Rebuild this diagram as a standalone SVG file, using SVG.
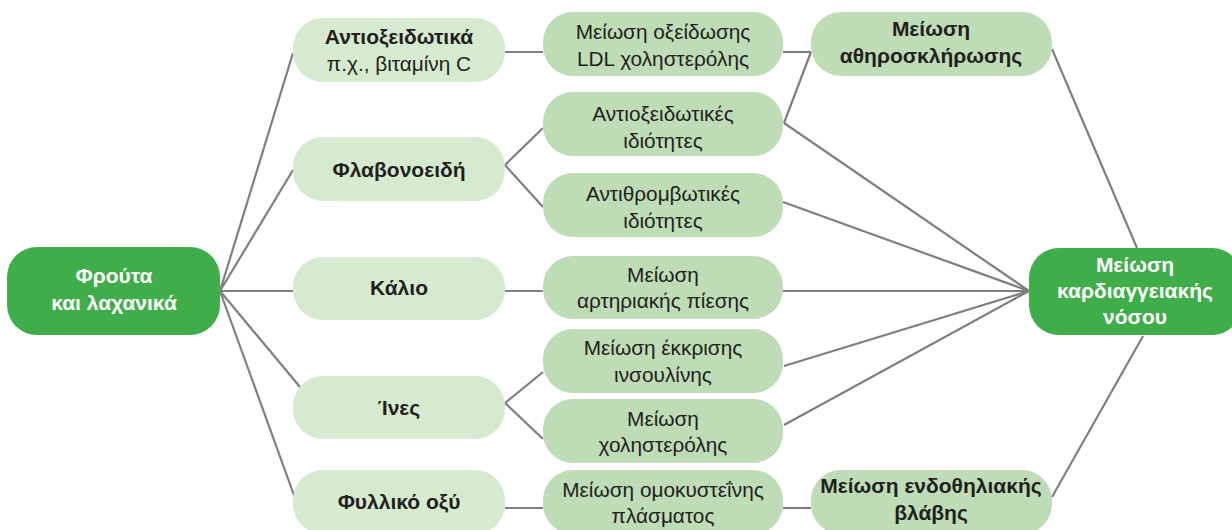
<svg xmlns="http://www.w3.org/2000/svg" width="1232" height="530" viewBox="0 0 1232 530">
<style>
.main{fill:#3fae4a}
.c1{fill:#d6ead0}
.c2{fill:#bedcb5}
text{font-family:"Liberation Sans",Arial,sans-serif;font-size:20.8px;text-anchor:middle;fill:#231f20}
.b{font-weight:bold;font-size:21px}
.w{fill:#ffffff;font-weight:bold;font-size:21px}
#connectors line{stroke:#7f7f7f;stroke-width:2.2;fill:none}
</style>
<rect width="1232" height="530" fill="#ffffff"/>
<g id="connectors">
<line x1="220" y1="291" x2="293" y2="53"/>
<line x1="220" y1="291" x2="293" y2="170"/>
<line x1="220" y1="291" x2="293" y2="291"/>
<line x1="220" y1="291" x2="300" y2="387"/>
<line x1="220" y1="291" x2="295" y2="498"/>
<line x1="505" y1="52" x2="543" y2="52"/>
<line x1="505" y1="165" x2="543" y2="128"/>
<line x1="505" y1="165" x2="543" y2="207"/>
<line x1="505" y1="291" x2="543" y2="291"/>
<line x1="505" y1="403" x2="543" y2="372"/>
<line x1="505" y1="403" x2="543" y2="439"/>
<line x1="505" y1="508" x2="543" y2="508"/>
<line x1="783" y1="52" x2="811" y2="52"/>
<line x1="784" y1="123" x2="811" y2="52"/>
<line x1="784" y1="123" x2="1029" y2="291"/>
<line x1="783" y1="202" x2="1029" y2="291"/>
<line x1="783" y1="291" x2="1029" y2="291"/>
<line x1="784" y1="366" x2="1029" y2="291"/>
<line x1="784" y1="425" x2="1029" y2="291"/>
<line x1="783" y1="508" x2="811" y2="508"/>
<line x1="1052" y1="49" x2="1137" y2="248"/>
<line x1="1052" y1="497" x2="1143" y2="336"/>
</g>
<g id="fruits">
<rect class="main" x="7" y="247" width="213" height="88" rx="30"/>
<text class="w" x="114" y="283">Φρούτα</text>
<text class="w" x="114" y="310">και λαχανικά</text>
</g>
<g id="antioxidants">
<rect class="c1" x="293" y="18" width="212" height="64" rx="30"/>
<text class="b" x="399" y="44">Αντιοξειδωτικά</text>
<text x="399" y="71">π.χ., βιταμίνη C</text>
</g>
<g id="flavonoids">
<rect class="c1" x="293" y="137" width="212" height="64" rx="30"/>
<text class="b" x="399" y="177">Φλαβονοειδή</text>
</g>
<g id="potassium">
<rect class="c1" x="293" y="257" width="212" height="63" rx="30"/>
<text class="b" x="399" y="295">Κάλιο</text>
</g>
<g id="fibers">
<rect class="c1" x="293" y="376" width="212" height="63" rx="30"/>
<text class="b" x="399" y="415">Ίνες</text>
</g>
<g id="folic">
<rect class="c1" x="293" y="470" width="212" height="64" rx="30"/>
<text class="b" x="399" y="509">Φυλλικό οξύ</text>
</g>
<g id="ldl">
<rect class="c2" x="543" y="12" width="240" height="64" rx="30"/>
<text x="663" y="39">Μείωση οξείδωσης</text>
<text x="663" y="66">LDL χοληστερόλης</text>
</g>
<g id="antiox-props">
<rect class="c2" x="543" y="92" width="240" height="64" rx="30"/>
<text x="663" y="121">Αντιοξειδωτικές</text>
<text x="663" y="148">ιδιότητες</text>
</g>
<g id="antithrombotic">
<rect class="c2" x="543" y="173" width="240" height="64" rx="30"/>
<text x="663" y="201">Αντιθρομβωτικές</text>
<text x="663" y="228">ιδιότητες</text>
</g>
<g id="blood-pressure">
<rect class="c2" x="543" y="256" width="240" height="63" rx="30"/>
<text x="663" y="282">Μείωση</text>
<text x="663" y="308">αρτηριακής πίεσης</text>
</g>
<g id="insulin">
<rect class="c2" x="543" y="329" width="240" height="64" rx="30"/>
<text x="663" y="355">Μείωση έκκρισης</text>
<text x="663" y="382">ινσουλίνης</text>
</g>
<g id="cholesterol">
<rect class="c2" x="543" y="399" width="240" height="64" rx="30"/>
<text x="663" y="426">Μείωση</text>
<text x="663" y="452">χοληστερόλης</text>
</g>
<g id="homocysteine">
<rect class="c2" x="543" y="470" width="240" height="64" rx="30"/>
<text x="663" y="497">Μείωση ομοκυστεΐνης</text>
<text x="663" y="523">πλάσματος</text>
</g>
<g id="atherosclerosis">
<rect class="c2" x="811" y="12" width="241" height="64" rx="30"/>
<text class="b" x="931" y="36">Μείωση</text>
<text class="b" x="931" y="63">αθηροσκλήρωσης</text>
</g>
<g id="endothelial">
<rect class="c2" x="811" y="470" width="241" height="64" rx="30"/>
<text class="b" x="931" y="493">Μείωση ενδοθηλιακής</text>
<text class="b" x="931" y="520">βλάβης</text>
</g>
<g id="cvd">
<rect class="main" x="1029" y="248" width="213" height="87" rx="30"/>
<text class="w" x="1135" y="272">Μείωση</text>
<text class="w" x="1135" y="298">καρδιαγγειακής</text>
<text class="w" x="1135" y="324">νόσου</text>
</g>
</svg>
